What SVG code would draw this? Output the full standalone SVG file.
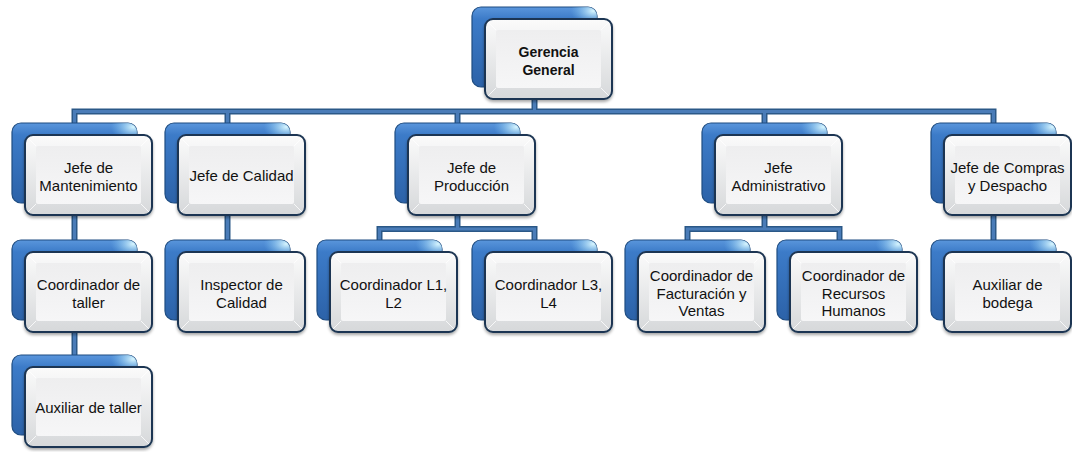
<svg xmlns="http://www.w3.org/2000/svg" xmlns:xlink="http://www.w3.org/1999/xlink" width="1072" height="452" viewBox="0 0 1072 452">
<style>
.back{fill:url(#blueG);stroke:#1f4d82;stroke-width:1.2}
.glow{fill:url(#glowG)}
.front{fill:url(#bevelG);stroke:#1c3552;stroke-width:2;filter:url(#sh)}
.inner{fill:url(#innerG)}
.corner{stroke:#ffffff;stroke-width:1;opacity:0.8}
.t{font-family:"Liberation Sans",Arial,sans-serif;font-size:15px;fill:#111111;text-anchor:middle}
.b{font-weight:bold;font-size:14px}
.c1{fill:none;stroke:#2b5887;stroke-width:6;stroke-linejoin:miter}
.c2{fill:none;stroke:#4a7cb8;stroke-width:3;stroke-linejoin:miter}
</style>
<defs>
<linearGradient id="blueG" x1="0" y1="0" x2="0" y2="1">
<stop offset="0" stop-color="#5a96dc"/>
<stop offset="0.15" stop-color="#3c7bc8"/>
<stop offset="1" stop-color="#2c62a8"/>
</linearGradient>
<radialGradient id="glowG" cx="0.97" cy="0.05" r="0.18">
<stop offset="0" stop-color="#d8f6ff" stop-opacity="1"/>
<stop offset="1" stop-color="#7fc4f0" stop-opacity="0"/>
</radialGradient>
<linearGradient id="bevelG" x1="0" y1="0" x2="0" y2="1">
<stop offset="0" stop-color="#fbfbfb"/>
<stop offset="1" stop-color="#d6d8da"/>
</linearGradient>
<linearGradient id="innerG" x1="0" y1="0" x2="0" y2="1">
<stop offset="0" stop-color="#eeeeef"/>
<stop offset="1" stop-color="#f6f6f7"/>
</linearGradient>
<filter id="sh" x="-10%" y="-10%" width="125%" height="130%">
<feDropShadow dx="0" dy="2" stdDeviation="1.5" flood-color="#000" flood-opacity="0.35"/>
</filter>
<g id="node">
<rect class="back" x="0" y="0" width="125" height="80" rx="9"/>
<rect class="glow" x="0" y="0" width="125" height="80" rx="9"/>
<rect class="front" x="13" y="12" width="127" height="80" rx="8"/>
<rect class="inner" x="24" y="23" width="105" height="58" rx="2"/>
<path class="corner" d="M16 15L24 23M137 15L129 23M16 89L24 81M137 89L129 81"/>
</g>
<path id="wires" d="M534.5 99V111.5M74.5 123V111.5H993.5V123M227.5 111.5V123M457.5 111.5V123M764.5 111.5V123M74.5 215V240M74.5 332V355M227.5 215V240M457.5 215V229M379.5 240V229H534.5V240M764.5 215V229M687.5 240V229H839.5V240M993.5 215V240"/>
</defs>
<g id="connectors">
<use xlink:href="#wires" class="c1"/>
<use xlink:href="#wires" class="c2"/>
</g>
<g id="gerencia" transform="translate(472,7)"><use xlink:href="#node"/><text class="t b" x="76.5" y="50">Gerencia</text><text class="t b" x="76.5" y="67.5">General</text></g>
<g id="mantenimiento" transform="translate(12,123)"><use xlink:href="#node"/><text class="t" x="76.5" y="50">Jefe de</text><text class="t" x="76.5" y="67.5">Mantenimiento</text></g>
<g id="calidad" transform="translate(165,123)"><use xlink:href="#node"/><text class="t" x="76.5" y="58">Jefe de Calidad</text></g>
<g id="produccion" transform="translate(395,123)"><use xlink:href="#node"/><text class="t" x="76.5" y="50">Jefe de</text><text class="t" x="76.5" y="67.5">Producción</text></g>
<g id="administrativo" transform="translate(702,123)"><use xlink:href="#node"/><text class="t" x="76.5" y="50">Jefe</text><text class="t" x="76.5" y="67.5">Administrativo</text></g>
<g id="compras" transform="translate(931,123)"><use xlink:href="#node"/><text class="t" x="76.5" y="50">Jefe de Compras</text><text class="t" x="76.5" y="67.5">y Despacho</text></g>
<g id="coord-taller" transform="translate(12,240)"><use xlink:href="#node"/><text class="t" x="76.5" y="50">Coordinador de</text><text class="t" x="76.5" y="67.5">taller</text></g>
<g id="inspector" transform="translate(165,240)"><use xlink:href="#node"/><text class="t" x="76.5" y="50">Inspector de</text><text class="t" x="76.5" y="67.5">Calidad</text></g>
<g id="coord-l1l2" transform="translate(317,240)"><use xlink:href="#node"/><text class="t" x="76.5" y="50">Coordinador L1,</text><text class="t" x="76.5" y="67.5">L2</text></g>
<g id="coord-l3l4" transform="translate(472,240)"><use xlink:href="#node"/><text class="t" x="76.5" y="50">Coordinador L3,</text><text class="t" x="76.5" y="67.5">L4</text></g>
<g id="coord-fact" transform="translate(625,240)"><use xlink:href="#node"/><text class="t" x="76.5" y="41">Coordinador de</text><text class="t" x="76.5" y="58.5">Facturación y</text><text class="t" x="76.5" y="76">Ventas</text></g>
<g id="coord-rh" transform="translate(777,240)"><use xlink:href="#node"/><text class="t" x="76.5" y="41">Coordinador de</text><text class="t" x="76.5" y="58.5">Recursos</text><text class="t" x="76.5" y="76">Humanos</text></g>
<g id="aux-bodega" transform="translate(931,240)"><use xlink:href="#node"/><text class="t" x="76.5" y="50">Auxiliar de</text><text class="t" x="76.5" y="67.5">bodega</text></g>
<g id="aux-taller" transform="translate(12,355)"><use xlink:href="#node"/><text class="t" x="76.5" y="58">Auxiliar de taller</text></g>
</svg>
